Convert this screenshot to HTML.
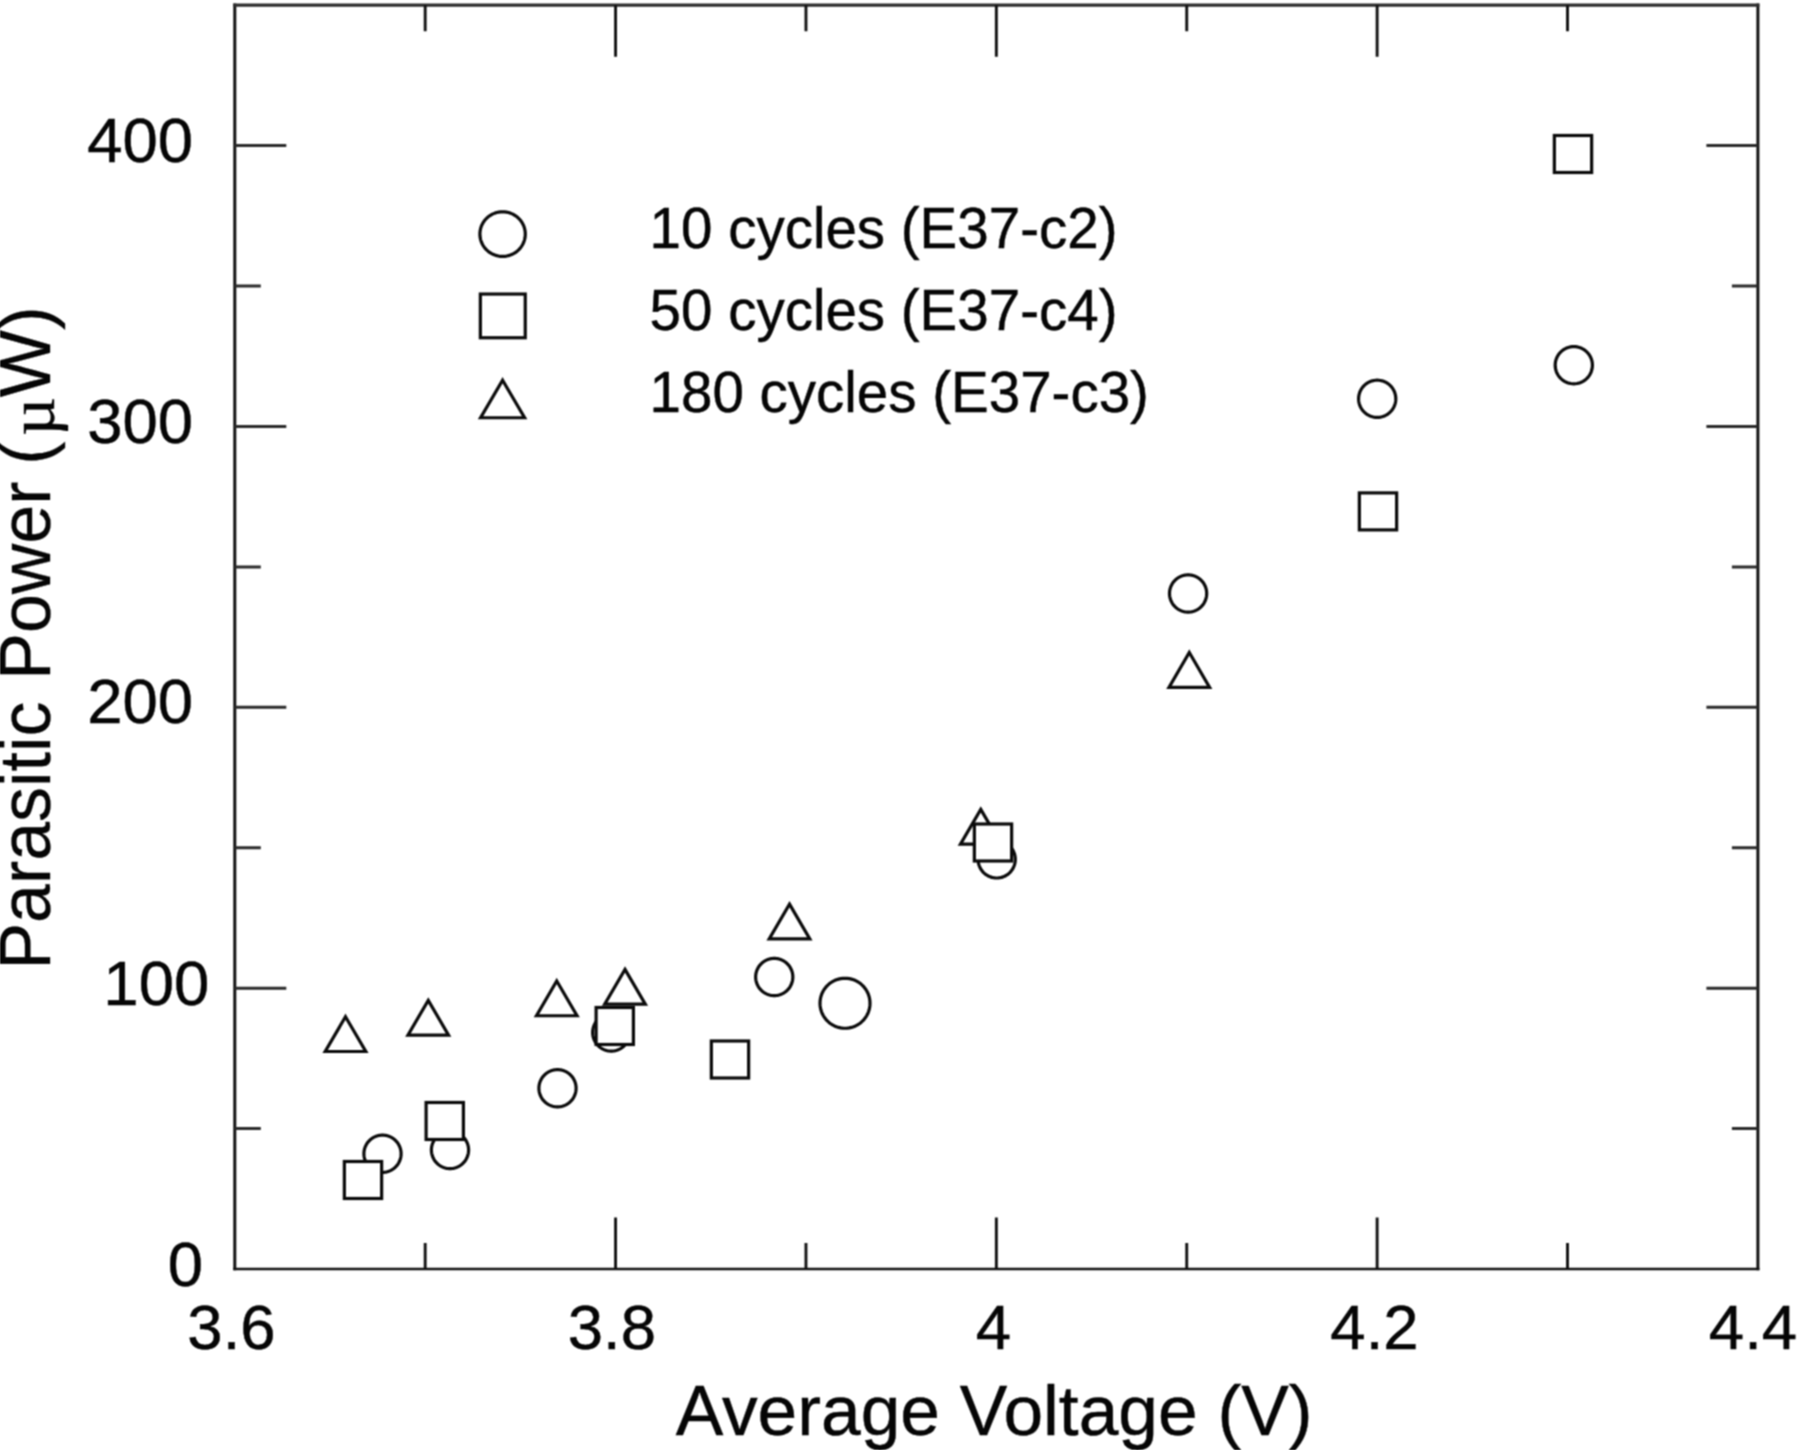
<!DOCTYPE html>
<html lang="en">
<head>
<meta charset="utf-8">
<title>Parasitic Power vs Average Voltage</title>
<style>
html,body{margin:0;padding:0;background:#fff;}
body{width:1800px;height:1450px;overflow:hidden;}
svg{display:block;}
text{font-family:"Liberation Sans",sans-serif;fill:#050505;}
.mu{font-family:"Liberation Serif","DejaVu Serif",serif;}
.ln{stroke:#111111;stroke-width:3.0;fill:none;stroke-linecap:butt;}
.mk{stroke:#0a0a0a;stroke-width:3.2;fill:#fff;stroke-linejoin:miter;}
.rd{stroke-linejoin:round;}
</style>
</head>
<body>
<svg width="1800" height="1450" viewBox="0 0 1800 1450">
<defs><filter id="soft" x="-2%" y="-2%" width="104%" height="104%" color-interpolation-filters="sRGB"><feConvolveMatrix order="3" kernelMatrix="1 2 1 2 4 2 1 2 1" divisor="16" edgeMode="duplicate" preserveAlpha="false"/></filter></defs>
<rect x="0" y="0" width="1800" height="1450" fill="#ffffff"/>
<g filter="url(#soft)">

<path class="ln" style="stroke-width:3.0" d="M234.80 3.60V1270.30M1757.90 3.60V1270.30"/>
<path class="ln" style="stroke-width:3.3;stroke:#2c2c2c" d="M233.30 5.20H1759.40"/>
<path class="ln" style="stroke-width:2.7" d="M233.30 1269.00H1759.40"/>
<path class="ln" style="stroke-width:2.9" d="M425.19 5.20V31.20M425.19 1269.00V1243.00M615.57 5.20V56.70M615.57 1269.00V1217.50M805.96 5.20V31.20M805.96 1269.00V1243.00M996.35 5.20V56.70M996.35 1269.00V1217.50M1186.74 5.20V31.20M1186.74 1269.00V1243.00M1377.13 5.20V56.70M1377.13 1269.00V1217.50M1567.51 5.20V31.20M1567.51 1269.00V1243.00"/>
<path class="ln" style="stroke-width:3.0;stroke:#2a2a2a" d="M234.80 1128.58H260.80M1757.90 1128.58H1731.90M234.80 988.16H286.30M1757.90 988.16H1706.40M234.80 847.73H260.80M1757.90 847.73H1731.90M234.80 707.31H286.30M1757.90 707.31H1706.40M234.80 566.89H260.80M1757.90 566.89H1731.90M234.80 426.47H286.30M1757.90 426.47H1706.40M234.80 286.04H260.80M1757.90 286.04H1731.90M234.80 145.62H286.30M1757.90 145.62H1706.40"/>
<g>
<path class="mk rd" d="M401.10 1153.75L401.03 1155.37L400.82 1156.98L400.47 1158.56L399.98 1160.11L399.36 1161.61L398.61 1163.05L397.74 1164.42L396.75 1165.71L395.65 1166.90L394.46 1168.00L393.17 1168.99L391.80 1169.86L390.36 1170.61L388.86 1171.23L387.31 1171.72L385.73 1172.07L384.12 1172.28L382.50 1172.35L380.88 1172.28L379.27 1172.07L377.69 1171.72L376.14 1171.23L374.64 1170.61L373.20 1169.86L371.83 1168.99L370.54 1168.00L369.35 1166.90L368.25 1165.71L367.26 1164.42L366.39 1163.05L365.64 1161.61L365.02 1160.11L364.53 1158.56L364.18 1156.98L363.97 1155.37L363.90 1153.75L363.97 1152.13L364.18 1150.52L364.53 1148.94L365.02 1147.39L365.64 1145.89L366.39 1144.45L367.26 1143.08L368.25 1141.79L369.35 1140.60L370.54 1139.50L371.83 1138.51L373.20 1137.64L374.64 1136.89L376.14 1136.27L377.69 1135.78L379.27 1135.43L380.88 1135.22L382.50 1135.15L384.12 1135.22L385.73 1135.43L387.31 1135.78L388.86 1136.27L390.36 1136.89L391.80 1137.64L393.17 1138.51L394.46 1139.50L395.65 1140.60L396.75 1141.79L397.74 1143.08L398.61 1144.45L399.36 1145.89L399.98 1147.39L400.47 1148.94L400.82 1150.52L401.03 1152.13Z"/>
<path class="mk rd" d="M468.60 1150.00L468.53 1151.62L468.32 1153.23L467.97 1154.81L467.48 1156.36L466.86 1157.86L466.11 1159.30L465.24 1160.67L464.25 1161.96L463.15 1163.15L461.96 1164.25L460.67 1165.24L459.30 1166.11L457.86 1166.86L456.36 1167.48L454.81 1167.97L453.23 1168.32L451.62 1168.53L450.00 1168.60L448.38 1168.53L446.77 1168.32L445.19 1167.97L443.64 1167.48L442.14 1166.86L440.70 1166.11L439.33 1165.24L438.04 1164.25L436.85 1163.15L435.75 1161.96L434.76 1160.67L433.89 1159.30L433.14 1157.86L432.52 1156.36L432.03 1154.81L431.68 1153.23L431.47 1151.62L431.40 1150.00L431.47 1148.38L431.68 1146.77L432.03 1145.19L432.52 1143.64L433.14 1142.14L433.89 1140.70L434.76 1139.33L435.75 1138.04L436.85 1136.85L438.04 1135.75L439.33 1134.76L440.70 1133.89L442.14 1133.14L443.64 1132.52L445.19 1132.03L446.77 1131.68L448.38 1131.47L450.00 1131.40L451.62 1131.47L453.23 1131.68L454.81 1132.03L456.36 1132.52L457.86 1133.14L459.30 1133.89L460.67 1134.76L461.96 1135.75L463.15 1136.85L464.25 1138.04L465.24 1139.33L466.11 1140.70L466.86 1142.14L467.48 1143.64L467.97 1145.19L468.32 1146.77L468.53 1148.38Z"/>
<path class="mk rd" d="M576.10 1088.25L576.03 1089.87L575.82 1091.48L575.47 1093.06L574.98 1094.61L574.36 1096.11L573.61 1097.55L572.74 1098.92L571.75 1100.21L570.65 1101.40L569.46 1102.50L568.17 1103.49L566.80 1104.36L565.36 1105.11L563.86 1105.73L562.31 1106.22L560.73 1106.57L559.12 1106.78L557.50 1106.85L555.88 1106.78L554.27 1106.57L552.69 1106.22L551.14 1105.73L549.64 1105.11L548.20 1104.36L546.83 1103.49L545.54 1102.50L544.35 1101.40L543.25 1100.21L542.26 1098.92L541.39 1097.55L540.64 1096.11L540.02 1094.61L539.53 1093.06L539.18 1091.48L538.97 1089.87L538.90 1088.25L538.97 1086.63L539.18 1085.02L539.53 1083.44L540.02 1081.89L540.64 1080.39L541.39 1078.95L542.26 1077.58L543.25 1076.29L544.35 1075.10L545.54 1074.00L546.83 1073.01L548.20 1072.14L549.64 1071.39L551.14 1070.77L552.69 1070.28L554.27 1069.93L555.88 1069.72L557.50 1069.65L559.12 1069.72L560.73 1069.93L562.31 1070.28L563.86 1070.77L565.36 1071.39L566.80 1072.14L568.17 1073.01L569.46 1074.00L570.65 1075.10L571.75 1076.29L572.74 1077.58L573.61 1078.95L574.36 1080.39L574.98 1081.89L575.47 1083.44L575.82 1085.02L576.03 1086.63Z"/>
<path class="mk rd" d="M629.85 1032.50L629.78 1034.12L629.57 1035.73L629.22 1037.31L628.73 1038.86L628.11 1040.36L627.36 1041.80L626.49 1043.17L625.50 1044.46L624.40 1045.65L623.21 1046.75L621.92 1047.74L620.55 1048.61L619.11 1049.36L617.61 1049.98L616.06 1050.47L614.48 1050.82L612.87 1051.03L611.25 1051.10L609.63 1051.03L608.02 1050.82L606.44 1050.47L604.89 1049.98L603.39 1049.36L601.95 1048.61L600.58 1047.74L599.29 1046.75L598.10 1045.65L597.00 1044.46L596.01 1043.17L595.14 1041.80L594.39 1040.36L593.77 1038.86L593.28 1037.31L592.93 1035.73L592.72 1034.12L592.65 1032.50L592.72 1030.88L592.93 1029.27L593.28 1027.69L593.77 1026.14L594.39 1024.64L595.14 1023.20L596.01 1021.83L597.00 1020.54L598.10 1019.35L599.29 1018.25L600.58 1017.26L601.95 1016.39L603.39 1015.64L604.89 1015.02L606.44 1014.53L608.02 1014.18L609.63 1013.97L611.25 1013.90L612.87 1013.97L614.48 1014.18L616.06 1014.53L617.61 1015.02L619.11 1015.64L620.55 1016.39L621.92 1017.26L623.21 1018.25L624.40 1019.35L625.50 1020.54L626.49 1021.83L627.36 1023.20L628.11 1024.64L628.73 1026.14L629.22 1027.69L629.57 1029.27L629.78 1030.88Z"/>
<path class="mk rd" d="M792.85 977.00L792.78 978.62L792.57 980.23L792.22 981.81L791.73 983.36L791.11 984.86L790.36 986.30L789.49 987.67L788.50 988.96L787.40 990.15L786.21 991.25L784.92 992.24L783.55 993.11L782.11 993.86L780.61 994.48L779.06 994.97L777.48 995.32L775.87 995.53L774.25 995.60L772.63 995.53L771.02 995.32L769.44 994.97L767.89 994.48L766.39 993.86L764.95 993.11L763.58 992.24L762.29 991.25L761.10 990.15L760.00 988.96L759.01 987.67L758.14 986.30L757.39 984.86L756.77 983.36L756.28 981.81L755.93 980.23L755.72 978.62L755.65 977.00L755.72 975.38L755.93 973.77L756.28 972.19L756.77 970.64L757.39 969.14L758.14 967.70L759.01 966.33L760.00 965.04L761.10 963.85L762.29 962.75L763.58 961.76L764.95 960.89L766.39 960.14L767.89 959.52L769.44 959.03L771.02 958.68L772.63 958.47L774.25 958.40L775.87 958.47L777.48 958.68L779.06 959.03L780.61 959.52L782.11 960.14L783.55 960.89L784.92 961.76L786.21 962.75L787.40 963.85L788.50 965.04L789.49 966.33L790.36 967.70L791.11 969.14L791.73 970.64L792.22 972.19L792.57 973.77L792.78 975.38Z"/>
<path class="mk rd" d="M1015.30 859.40L1015.23 861.02L1015.02 862.63L1014.67 864.21L1014.18 865.76L1013.56 867.26L1012.81 868.70L1011.94 870.07L1010.95 871.36L1009.85 872.55L1008.66 873.65L1007.37 874.64L1006.00 875.51L1004.56 876.26L1003.06 876.88L1001.51 877.37L999.93 877.72L998.32 877.93L996.70 878.00L995.08 877.93L993.47 877.72L991.89 877.37L990.34 876.88L988.84 876.26L987.40 875.51L986.03 874.64L984.74 873.65L983.55 872.55L982.45 871.36L981.46 870.07L980.59 868.70L979.84 867.26L979.22 865.76L978.73 864.21L978.38 862.63L978.17 861.02L978.10 859.40L978.17 857.78L978.38 856.17L978.73 854.59L979.22 853.04L979.84 851.54L980.59 850.10L981.46 848.73L982.45 847.44L983.55 846.25L984.74 845.15L986.03 844.16L987.40 843.29L988.84 842.54L990.34 841.92L991.89 841.43L993.47 841.08L995.08 840.87L996.70 840.80L998.32 840.87L999.93 841.08L1001.51 841.43L1003.06 841.92L1004.56 842.54L1006.00 843.29L1007.37 844.16L1008.66 845.15L1009.85 846.25L1010.95 847.44L1011.94 848.73L1012.81 850.10L1013.56 851.54L1014.18 853.04L1014.67 854.59L1015.02 856.17L1015.23 857.78Z"/>
<path class="mk rd" d="M1206.70 593.50L1206.63 595.12L1206.42 596.73L1206.07 598.31L1205.58 599.86L1204.96 601.36L1204.21 602.80L1203.34 604.17L1202.35 605.46L1201.25 606.65L1200.06 607.75L1198.77 608.74L1197.40 609.61L1195.96 610.36L1194.46 610.98L1192.91 611.47L1191.33 611.82L1189.72 612.03L1188.10 612.10L1186.48 612.03L1184.87 611.82L1183.29 611.47L1181.74 610.98L1180.24 610.36L1178.80 609.61L1177.43 608.74L1176.14 607.75L1174.95 606.65L1173.85 605.46L1172.86 604.17L1171.99 602.80L1171.24 601.36L1170.62 599.86L1170.13 598.31L1169.78 596.73L1169.57 595.12L1169.50 593.50L1169.57 591.88L1169.78 590.27L1170.13 588.69L1170.62 587.14L1171.24 585.64L1171.99 584.20L1172.86 582.83L1173.85 581.54L1174.95 580.35L1176.14 579.25L1177.43 578.26L1178.80 577.39L1180.24 576.64L1181.74 576.02L1183.29 575.53L1184.87 575.18L1186.48 574.97L1188.10 574.90L1189.72 574.97L1191.33 575.18L1192.91 575.53L1194.46 576.02L1195.96 576.64L1197.40 577.39L1198.77 578.26L1200.06 579.25L1201.25 580.35L1202.35 581.54L1203.34 582.83L1204.21 584.20L1204.96 585.64L1205.58 587.14L1206.07 588.69L1206.42 590.27L1206.63 591.88Z"/>
<path class="mk rd" d="M1395.80 398.80L1395.73 400.42L1395.52 402.03L1395.17 403.61L1394.68 405.16L1394.06 406.66L1393.31 408.10L1392.44 409.47L1391.45 410.76L1390.35 411.95L1389.16 413.05L1387.87 414.04L1386.50 414.91L1385.06 415.66L1383.56 416.28L1382.01 416.77L1380.43 417.12L1378.82 417.33L1377.20 417.40L1375.58 417.33L1373.97 417.12L1372.39 416.77L1370.84 416.28L1369.34 415.66L1367.90 414.91L1366.53 414.04L1365.24 413.05L1364.05 411.95L1362.95 410.76L1361.96 409.47L1361.09 408.10L1360.34 406.66L1359.72 405.16L1359.23 403.61L1358.88 402.03L1358.67 400.42L1358.60 398.80L1358.67 397.18L1358.88 395.57L1359.23 393.99L1359.72 392.44L1360.34 390.94L1361.09 389.50L1361.96 388.13L1362.95 386.84L1364.05 385.65L1365.24 384.55L1366.53 383.56L1367.90 382.69L1369.34 381.94L1370.84 381.32L1372.39 380.83L1373.97 380.48L1375.58 380.27L1377.20 380.20L1378.82 380.27L1380.43 380.48L1382.01 380.83L1383.56 381.32L1385.06 381.94L1386.50 382.69L1387.87 383.56L1389.16 384.55L1390.35 385.65L1391.45 386.84L1392.44 388.13L1393.31 389.50L1394.06 390.94L1394.68 392.44L1395.17 393.99L1395.52 395.57L1395.73 397.18Z"/>
<path class="mk rd" d="M1592.40 365.20L1592.33 366.82L1592.12 368.43L1591.77 370.01L1591.28 371.56L1590.66 373.06L1589.91 374.50L1589.04 375.87L1588.05 377.16L1586.95 378.35L1585.76 379.45L1584.47 380.44L1583.10 381.31L1581.66 382.06L1580.16 382.68L1578.61 383.17L1577.03 383.52L1575.42 383.73L1573.80 383.80L1572.18 383.73L1570.57 383.52L1568.99 383.17L1567.44 382.68L1565.94 382.06L1564.50 381.31L1563.13 380.44L1561.84 379.45L1560.65 378.35L1559.55 377.16L1558.56 375.87L1557.69 374.50L1556.94 373.06L1556.32 371.56L1555.83 370.01L1555.48 368.43L1555.27 366.82L1555.20 365.20L1555.27 363.58L1555.48 361.97L1555.83 360.39L1556.32 358.84L1556.94 357.34L1557.69 355.90L1558.56 354.53L1559.55 353.24L1560.65 352.05L1561.84 350.95L1563.13 349.96L1564.50 349.09L1565.94 348.34L1567.44 347.72L1568.99 347.23L1570.57 346.88L1572.18 346.67L1573.80 346.60L1575.42 346.67L1577.03 346.88L1578.61 347.23L1580.16 347.72L1581.66 348.34L1583.10 349.09L1584.47 349.96L1585.76 350.95L1586.95 352.05L1588.05 353.24L1589.04 354.53L1589.91 355.90L1590.66 357.34L1591.28 358.84L1591.77 360.39L1592.12 361.97L1592.33 363.58Z"/>
<path class="mk rd" d="M870.00 1003.25L869.90 1005.43L869.62 1007.59L869.15 1009.72L868.49 1011.80L867.66 1013.82L866.65 1015.75L865.48 1017.59L864.15 1019.32L862.68 1020.93L861.07 1022.40L859.34 1023.73L857.50 1024.90L855.57 1025.91L853.55 1026.74L851.47 1027.40L849.34 1027.87L847.18 1028.15L845.00 1028.25L842.82 1028.15L840.66 1027.87L838.53 1027.40L836.45 1026.74L834.43 1025.91L832.50 1024.90L830.66 1023.73L828.93 1022.40L827.32 1020.93L825.85 1019.32L824.52 1017.59L823.35 1015.75L822.34 1013.82L821.51 1011.80L820.85 1009.72L820.38 1007.59L820.10 1005.43L820.00 1003.25L820.10 1001.07L820.38 998.91L820.85 996.78L821.51 994.70L822.34 992.68L823.35 990.75L824.52 988.91L825.85 987.18L827.32 985.57L828.93 984.10L830.66 982.77L832.50 981.60L834.43 980.59L836.45 979.76L838.53 979.10L840.66 978.63L842.82 978.35L845.00 978.25L847.18 978.35L849.34 978.63L851.47 979.10L853.55 979.76L855.57 980.59L857.50 981.60L859.34 982.77L861.07 984.10L862.68 985.57L864.15 987.18L865.48 988.91L866.65 990.75L867.66 992.68L868.49 994.70L869.15 996.78L869.62 998.91L869.90 1001.07Z"/>
<path class="mk" d="M345.50 1016.70L365.80 1051.50L325.20 1051.50Z"/>
<path class="mk" d="M428.25 1000.33L448.55 1035.12L407.95 1035.12Z"/>
<path class="mk" d="M556.75 980.95L577.05 1015.75L536.45 1015.75Z"/>
<path class="mk" d="M625.00 969.33L645.30 1004.12L604.70 1004.12Z"/>
<path class="mk" d="M789.50 904.08L809.80 938.88L769.20 938.88Z"/>
<path class="mk" d="M980.75 809.33L1001.05 844.12L960.45 844.12Z"/>
<path class="mk" d="M1189.30 652.55L1209.60 687.35L1169.00 687.35Z"/>
<rect class="mk" x="344.35" y="1161.50" width="37.30" height="37.00"/>
<rect class="mk" x="426.10" y="1102.50" width="37.30" height="37.00"/>
<rect class="mk" x="596.10" y="1007.50" width="37.30" height="37.00"/>
<rect class="mk" x="711.35" y="1041.00" width="37.30" height="37.00"/>
<rect class="mk" x="974.35" y="824.00" width="37.30" height="37.00"/>
<rect class="mk" x="1359.35" y="492.90" width="37.30" height="37.00"/>
<rect class="mk" x="1554.35" y="135.50" width="37.30" height="37.00"/>
</g>
<g>
<path class="mk rd" d="M525.30 234.10L525.21 236.04L524.96 237.97L524.53 239.87L523.93 241.73L523.17 243.52L522.26 245.25L521.19 246.89L519.99 248.43L518.65 249.87L517.19 251.18L515.62 252.37L513.95 253.41L512.19 254.31L510.36 255.06L508.48 255.64L506.54 256.06L504.58 256.32L502.60 256.40L500.62 256.32L498.66 256.06L496.72 255.64L494.84 255.06L493.01 254.31L491.25 253.41L489.58 252.37L488.01 251.18L486.55 249.87L485.21 248.43L484.01 246.89L482.94 245.25L482.03 243.52L481.27 241.73L480.67 239.87L480.24 237.97L479.99 236.04L479.90 234.10L479.99 232.16L480.24 230.23L480.67 228.33L481.27 226.47L482.03 224.68L482.94 222.95L484.01 221.31L485.21 219.77L486.55 218.33L488.01 217.02L489.58 215.83L491.25 214.79L493.01 213.89L494.84 213.14L496.72 212.56L498.66 212.14L500.62 211.88L502.60 211.80L504.58 211.88L506.54 212.14L508.48 212.56L510.36 213.14L512.19 213.89L513.95 214.79L515.62 215.83L517.19 217.02L518.65 218.33L519.99 219.77L521.19 221.31L522.26 222.95L523.17 224.68L523.93 226.47L524.53 228.33L524.96 230.23L525.21 232.16Z"/>
<rect class="mk" x="480.35" y="294.05" width="44.90" height="43.70"/>
<path class="mk" d="M502.60 380.25L524.60 417.75L480.60 417.75Z"/>
</g>
<text id="lg1" x="649.6" y="248.2" font-size="56.5" stroke="#050505" stroke-width="0.45">10 cycles (E37-c2)</text>
<text id="lg2" x="649.6" y="329.9" font-size="56.5" stroke="#050505" stroke-width="0.45">50 cycles (E37-c4)</text>
<text id="lg3" x="649.6" y="411.5" font-size="56.5" stroke="#050505" stroke-width="0.45">180 cycles (E37-c3)</text>
<text class="yt" x="203.10" y="1285.60" font-size="63.5" text-anchor="end" stroke="#050505" stroke-width="0.45">0</text>
<text class="yt" x="209.30" y="1004.80" font-size="63.5" text-anchor="end" stroke="#050505" stroke-width="0.45">100</text>
<text class="yt" x="193.20" y="723.30" font-size="63.5" text-anchor="end" stroke="#050505" stroke-width="0.45">200</text>
<text class="yt" x="193.20" y="442.70" font-size="63.5" text-anchor="end" stroke="#050505" stroke-width="0.45">300</text>
<text class="yt" x="193.20" y="161.80" font-size="63.5" text-anchor="end" stroke="#050505" stroke-width="0.45">400</text>
<text class="xt" x="231.50" y="1349" font-size="63.5" text-anchor="middle" stroke="#050505" stroke-width="0.45">3.6</text>
<text class="xt" x="611.90" y="1349" font-size="63.5" text-anchor="middle" stroke="#050505" stroke-width="0.45">3.8</text>
<text class="xt" x="993.40" y="1349" font-size="63.5" text-anchor="middle" stroke="#050505" stroke-width="0.45">4</text>
<text class="xt" x="1374.50" y="1349" font-size="63.5" text-anchor="middle" stroke="#050505" stroke-width="0.45">4.2</text>
<text class="xt" x="1753.00" y="1349" font-size="63.5" text-anchor="middle" stroke="#050505" stroke-width="0.45">4.4</text>
<text id="xl" x="675.7" y="1435.2" font-size="71.3" stroke="#050505" stroke-width="0.45">Average Voltage (V)</text>
<g id="yl">
<text transform="translate(50.3 969.6) rotate(-90) scale(1 1.035)" font-size="69.9" stroke="#050505" stroke-width="0.3">Parasitic <tspan dx="2.5">Power</tspan><tspan dx="-2.5"> (</tspan></text>
<text class="mu" transform="translate(54.0 435.9) rotate(-90) scale(0.96 0.95)" font-size="70" stroke="#050505" stroke-width="0.3">µ</text>
<text transform="translate(50.3 397.3) rotate(-90) scale(1 1.017)" font-size="71.2" stroke="#050505" stroke-width="0.3">W)</text>
</g>
</g>
</svg>
</body>
</html>
